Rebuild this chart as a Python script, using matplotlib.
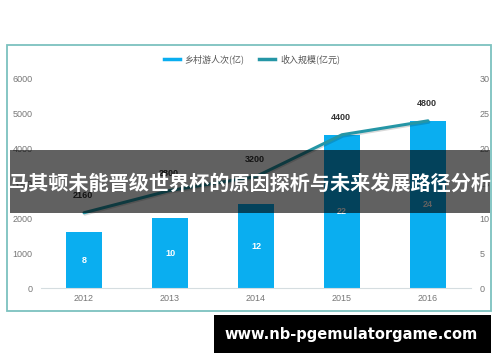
#------------Imports----------------------------------#
import matplotlib
matplotlib.use('Agg')
import matplotlib.pyplot as plt
import matplotlib.patheffects as pe
from matplotlib.patches import Rectangle
from matplotlib.lines import Line2D
#-----------------------------------------------------#

plt.rcParams['font.family'] = ['Noto Sans CJK SC', 'DejaVu Sans']

#----Data----------------------------------------------#
years = ['2012', '2013', '2014', '2015', '2016']
visits = [8, 10, 12, 22, 24]                 # 乡村游人次(亿), right axis
income = [2160, 2800, 3200, 4400, 4800]      # 收入规模(亿元), left axis
left_ticks = [0, 1000, 2000, 3000, 4000, 5000, 6000]
right_ticks = [0, 5, 10, 15, 20, 25, 30]
title = '马其顿未能晋级世界杯的原因探析与未来发展路径分析'
watermark = 'www.nb-pgemulatorgame.com'
#-----------------------------------------------------#

W, H = 500, 362
fig = plt.figure(figsize=(W / 100, H / 100), dpi=100)
fig.patch.set_facecolor('white')

def fx(px):  # pixel x -> figure fraction
    return px / W

def fy(py):  # pixel y (from top) -> figure fraction
    return 1 - py / H

bar_col = '#0aaef0'
line_col = '#2596a6'
tick_col = '#777777'

ax = fig.add_axes([fx(41), fy(288), fx(471) - fx(41), fy(79) - fy(288)])
ax2 = ax.twinx()
x = list(range(len(years)))

# bars on the right axis
ax2.bar(x, visits, width=0.41, color=bar_col, zorder=2)
for i, v in enumerate(visits):
    ax2.text(i, v / 2, str(v), ha='center', va='center', color='white',
             fontsize=6.5, fontweight='bold', family='Liberation Sans')

# line on the left axis
ax.plot(x, income, color=line_col, lw=2.2, solid_capstyle='round',
        path_effects=[pe.SimpleLineShadow(offset=(0.6, -1.0), alpha=0.15), pe.Normal()])
for i, v in enumerate(income):
    ax.annotate(str(v), (i, v), xytext=(-1, 9), textcoords='offset points',
                ha='center', va='bottom', fontsize=6.5, fontweight='bold',
                color='#333333', family='Liberation Sans')

ax.set_zorder(ax2.get_zorder() + 1)
ax.patch.set_visible(False)

ax.set_xlim(-0.5, 4.5)
ax.set_ylim(0, 6000)
ax2.set_ylim(0, 30)
ax.set_yticks(left_ticks)
ax2.set_yticks(right_ticks)
ax.set_xticks(x)
ax.set_xticklabels(years)

for a in (ax, ax2):
    for s in a.spines.values():
        s.set_visible(False)
    a.tick_params(length=0, colors=tick_col, labelsize=6.5)
    for lab in a.get_xticklabels() + a.get_yticklabels():
        lab.set_family('Liberation Sans')
ax.spines['bottom'].set_visible(True)
ax.spines['bottom'].set_color('#d5dde0')
ax.tick_params(axis='y', pad=6)
ax2.tick_params(axis='y', pad=6)
ax.tick_params(axis='x', pad=4)

# legend
handles = [Line2D([0], [0], color=bar_col, lw=2.5),
           Line2D([0], [0], color=line_col, lw=2.5)]
fig.legend(handles, ['乡村游人次(亿)', '收入规模(亿元)'], loc='center',
           bbox_to_anchor=(fx(252), fy(59)), ncol=2, frameon=False,
           fontsize=6.5, handlelength=1.8, columnspacing=1.6,
           handletextpad=0.5, labelcolor='#555555')

# chart frame
fig.patches.append(Rectangle((fx(7), fy(311)), fx(491) - fx(7), fy(45) - fy(311),
                             transform=fig.transFigure, fill=False,
                             edgecolor='#7cc2bf', lw=1.3, zorder=1))

# title banner overlay
fig.patches.append(Rectangle((fx(10), fy(213)), fx(490) - fx(10), fy(150) - fy(213),
                             transform=fig.transFigure, facecolor='black',
                             alpha=0.62, zorder=10))
fig.text(fx(250), fy(183), title, ha='center', va='center', color='white',
         fontsize=14.5, fontweight='bold', zorder=11)

# watermark box
fig.patches.append(Rectangle((fx(214), fy(353)), fx(491) - fx(214), fy(315) - fy(353),
                             transform=fig.transFigure, facecolor='black', zorder=10))
fig.text(fx(351), fy(334), watermark, ha='center', va='center', color='white',
         fontsize=10.5, fontweight='bold', family='DejaVu Sans', zorder=11)

fig.savefig('out.png', dpi=100)
